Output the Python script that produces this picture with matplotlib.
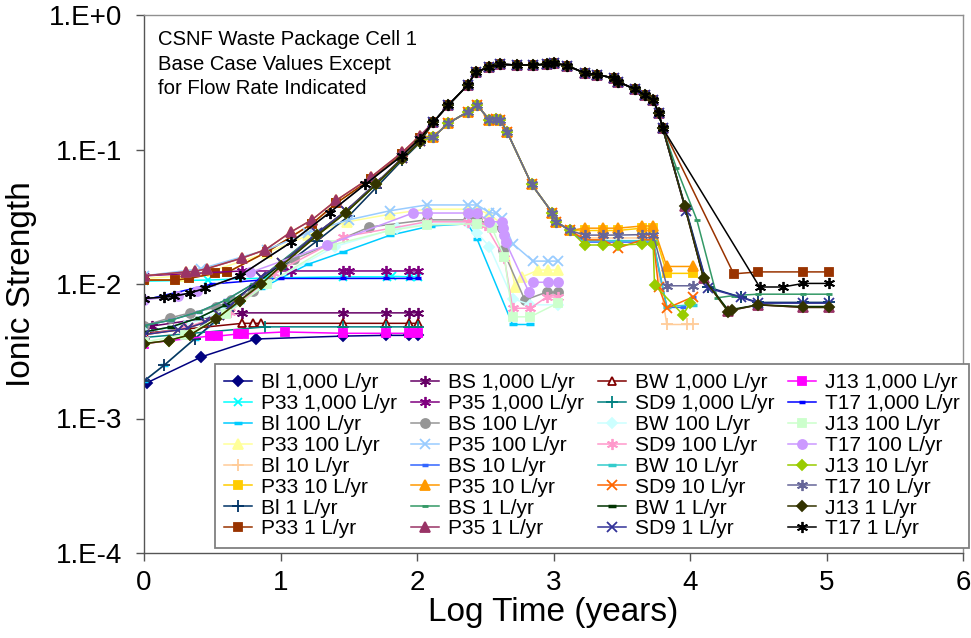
import matplotlib
matplotlib.use('Agg')
import matplotlib.pyplot as plt
from matplotlib.ticker import FixedLocator, FuncFormatter, NullLocator
import numpy as np

plt.rcParams['font.family'] = ['Liberation Sans', 'DejaVu Sans']

# ---------------- data ----------------
# 1,000 L/yr
x_BI_1000 = [0.02, 0.42, 0.82, 1.46, 1.77, 1.94, 2.01]
y_BI_1000 = [1.84e-3, 2.87e-3, 3.9e-3, 4.1e-3, 4.15e-3, 4.15e-3, 4.15e-3]
x_P33_1000 = [0.0, 0.47, 0.9, 1.46, 1.78, 1.82, 1.95, 2.01]
y_P33_1000 = [1.05e-2, 1.07e-2, 1.11e-2, 1.13e-2, 1.13e-2, 1.14e-2, 1.13e-2, 1.13e-2]
x_BS_1000 = [0.06, 0.72, 1.46, 1.77, 1.94, 2.01]
y_BS_1000 = [4.87e-3, 6.1e-3, 6.1e-3, 6.1e-3, 6.1e-3, 6.1e-3]
x_P35_1000 = [0.0, 0.72, 1.08, 1.46, 1.50, 1.77, 1.94, 2.01]
y_P35_1000 = [1.15e-2, 1.25e-2, 1.25e-2, 1.25e-2, 1.25e-2, 1.25e-2, 1.25e-2, 1.25e-2]
x_BW_1000 = [0.0, 0.72, 0.80, 0.86, 1.46, 1.77, 1.94, 2.01]
y_BW_1000 = [4.3e-3, 5.1e-3, 5.1e-3, 5.1e-3, 5.1e-3, 5.1e-3, 5.1e-3, 5.1e-3]
x_SD9_1000 = [0.0, 0.89, 1.46, 1.77, 1.94, 2.01]
y_SD9_1000 = [4.0e-3, 4.8e-3, 4.8e-3, 4.8e-3, 4.8e-3, 4.8e-3]
x_J13_1000 = [0.0, 0.48, 0.54, 0.69, 0.73, 1.03, 1.46, 1.77, 1.94, 2.01]
y_J13_1000 = [3.6e-3, 4.1e-3, 4.1e-3, 4.25e-3, 4.25e-3, 4.4e-3, 4.3e-3, 4.3e-3, 4.3e-3, 4.3e-3]
x_T17_1000 = [0.0, 0.5, 1.0, 1.46, 1.77, 1.94, 2.01]
y_T17_1000 = [7.6e-3, 1.0e-2, 1.1e-2, 1.1e-2, 1.1e-2, 1.1e-2, 1.1e-2]

# 100 L/yr
x_BI_100 = [0.0, 0.15, 0.37, 0.70, 0.86, 1.20, 1.46, 1.80, 2.10, 2.37, 2.44, 2.70, 2.83]
y_BI_100 = [1.9e-3, 2.5e-3, 3.9e-3, 7.3e-3, 9.3e-3, 1.4e-2, 1.73e-2, 2.3e-2, 2.7e-2, 2.8e-2, 2.16e-2, 5.0e-3, 5.0e-3]
x_P33_100 = [0.0, 0.3, 0.5, 0.9, 1.2, 1.49, 1.8, 2.07, 2.37, 2.44, 2.53, 2.62, 2.72, 2.77, 2.89, 2.96, 3.03]
y_P33_100 = [1.1e-2, 1.15e-2, 1.25e-2, 1.7e-2, 2.3e-2, 2.9e-2, 3.3e-2, 3.6e-2, 3.6e-2, 3.6e-2, 3.3e-2, 2.8e-2,
             9.5e-3, 1.13e-2, 1.27e-2, 1.27e-2, 1.27e-2]
x_BS_100 = [0.0, 0.19, 0.34, 0.53, 0.64, 0.80, 1.10, 1.65, 2.07, 2.37, 2.44, 2.53, 2.62, 2.63, 2.79, 2.95, 3.03]
y_BS_100 = [4.9e-3, 5.6e-3, 6.1e-3, 6.7e-3, 7.6e-3, 8.9e-3, 1.53e-2, 2.65e-2, 3.0e-2, 3.0e-2, 3.0e-2, 2.8e-2,
            2.6e-2, 1.79e-2, 7.6e-3, 8.7e-3, 8.7e-3]
x_P35_100 = [0.0, 0.42, 0.9, 1.2, 1.5, 1.8, 2.07, 2.37, 2.44, 2.53, 2.58, 2.62, 2.70, 2.85, 2.96, 3.03]
y_P35_100 = [1.15e-2, 1.3e-2, 1.8e-2, 2.4e-2, 3.0e-2, 3.5e-2, 3.87e-2, 3.87e-2, 3.87e-2, 3.4e-2, 3.35e-2, 3.1e-2,
             2.0e-2, 1.48e-2, 1.48e-2, 1.48e-2]
x_BW_100 = [0.0, 0.3, 0.6, 0.9, 1.4, 1.85, 2.07, 2.37, 2.44, 2.53, 2.70, 2.83, 3.03]
y_BW_100 = [4.4e-3, 4.9e-3, 6.5e-3, 1.0e-2, 1.9e-2, 2.6e-2, 2.8e-2, 2.85e-2, 2.4e-2, 1.9e-2, 7.8e-3, 7.0e-3, 7.0e-3]
x_SD9_100 = [0.0, 0.3, 0.63, 0.95, 1.46, 2.07, 2.37, 2.44, 2.50, 2.64, 2.70, 2.83, 2.95, 3.03]
y_SD9_100 = [4.2e-3, 4.7e-3, 6.2e-3, 1.2e-2, 2.24e-2, 2.9e-2, 2.9e-2, 2.9e-2, 2.75e-2, 1.56e-2, 6.6e-3, 6.6e-3,
             8.0e-3, 8.0e-3]
x_J13_100 = [0.0, 0.3, 0.6, 0.9, 1.38, 1.8, 2.07, 2.44, 2.55, 2.64, 2.70, 2.83, 3.03]
y_J13_100 = [3.7e-3, 4.2e-3, 6.0e-3, 1.0e-2, 1.95e-2, 2.5e-2, 2.75e-2, 2.8e-2, 2.6e-2, 1.6e-2, 5.7e-3, 5.7e-3, 7.2e-3]
x_T17_100 = [0.0, 0.25, 0.39, 0.78, 1.34, 1.97, 2.07, 2.37, 2.44, 2.53, 2.62, 2.63, 2.64, 2.65, 2.82, 2.85, 2.96, 3.03]
y_T17_100 = [7.6e-3, 8.2e-3, 8.8e-3, 1.22e-2, 1.95e-2, 3.37e-2, 3.37e-2, 3.37e-2, 3.37e-2, 2.9e-2, 2.9e-2, 2.6e-2,
             2.3e-2, 2.05e-2, 8.7e-3, 1.03e-2, 1.03e-2, 1.03e-2]

# early rise shared by 10 and 1 L/yr, per water
x_BI_early = [0.0, 0.15, 0.37, 0.55, 0.70, 0.86, 1.00, 1.27, 1.50, 1.70, 1.89, 2.02]
y_BI_early = [1.9e-3, 2.5e-3, 3.9e-3, 5.6e-3, 7.5e-3, 1.0e-2, 1.3e-2, 2.1e-2, 3.2e-2, 5.2e-2, 8.3e-2, 0.112]
x_P33_early = [0.0, 0.23, 0.33, 0.52, 0.61, 0.90, 1.23, 1.41, 1.66, 1.89, 2.02]
y_P33_early = [1.07e-2, 1.07e-2, 1.10e-2, 1.20e-2, 1.22e-2, 1.73e-2, 2.8e-2, 4.0e-2, 6.0e-2, 9.2e-2, 0.122]
x_BS_early = [0.0, 0.20, 0.40, 0.60, 0.80, 1.00, 1.27, 1.48, 1.70, 1.89, 2.02]
y_BS_early = [4.9e-3, 5.4e-3, 6.2e-3, 7.6e-3, 1.0e-2, 1.45e-2, 2.4e-2, 3.5e-2, 5.6e-2, 8.6e-2, 0.115]
x_P35_early = [0.0, 0.31, 0.37, 0.46, 0.72, 0.89, 1.08, 1.23, 1.41, 1.66, 1.89, 2.02]
y_P35_early = [1.15e-2, 1.23e-2, 1.24e-2, 1.30e-2, 1.56e-2, 1.80e-2, 2.45e-2, 3.0e-2, 4.2e-2, 6.2e-2, 9.5e-2, 0.126]
x_BW_early = [0.0, 0.20, 0.40, 0.60, 0.80, 1.00, 1.27, 1.48, 1.70, 1.89, 2.02]
y_BW_early = [4.4e-3, 4.8e-3, 5.6e-3, 7.0e-3, 9.6e-3, 1.4e-2, 2.35e-2, 3.4e-2, 5.5e-2, 8.5e-2, 0.114]
x_SD9_early = [0.0, 0.25, 0.32, 0.45, 0.55, 0.62, 0.86, 1.01, 1.27, 1.48, 1.70, 1.89, 2.02]
y_SD9_early = [4.2e-3, 4.55e-3, 4.7e-3, 5.2e-3, 5.9e-3, 6.7e-3, 1.13e-2, 1.43e-2, 2.4e-2, 3.5e-2, 5.6e-2, 8.6e-2, 0.115]
x_J13_early = [0.0, 0.18, 0.34, 0.53, 0.70, 0.86, 1.00, 1.27, 1.48, 1.70, 1.89, 2.02]
y_J13_early = [3.6e-3, 3.8e-3, 4.2e-3, 5.5e-3, 7.5e-3, 1.0e-2, 1.35e-2, 2.3e-2, 3.4e-2, 5.5e-2, 8.5e-2, 0.114]
x_T17_early = [0.0, 0.15, 0.22, 0.34, 0.45, 0.70, 1.08, 1.36, 1.62, 1.89, 2.02]
y_T17_early = [7.8e-3, 8.0e-3, 8.1e-3, 8.6e-3, 9.3e-3, 1.15e-2, 2.05e-2, 3.4e-2, 5.5e-2, 9.0e-2, 0.12]

# 10 L/yr peak and plateau
x_main10 = [2.12, 2.23, 2.37, 2.44, 2.53, 2.58, 2.61, 2.66, 2.84, 2.99, 3.02, 3.12]
y_main10 = [0.124, 0.157, 0.19, 0.214, 0.166, 0.17, 0.166, 0.135, 0.055, 0.034, 0.029, 0.025]
x_plat10 = [3.23, 3.36, 3.47, 3.65, 3.73]
y_BI_plat10 = [0.022, 0.022, 0.022, 0.022, 0.022]
y_P33_plat10 = [0.025, 0.025, 0.025, 0.026, 0.026]
y_BS_plat10 = [0.0205, 0.0205, 0.0205, 0.0205, 0.0205]
y_P35_plat10 = [0.026, 0.026, 0.026, 0.027, 0.027]
y_BW_plat10 = [0.021, 0.021, 0.021, 0.021, 0.021]
y_SD9_plat10 = [0.0213, 0.0213, 0.0185, 0.0213, 0.0213]
y_J13_plat10 = [0.0195, 0.0195, 0.0195, 0.0198, 0.0198]
y_T17_plat10 = [0.0231, 0.0231, 0.0231, 0.0233, 0.0233]
x_BI_tail10 = [3.83, 3.98, 4.02]
y_BI_tail10 = [5.0e-3, 5.0e-3, 5.0e-3]
x_P33_tail10 = [3.83, 4.02]
y_P33_tail10 = [1.2e-2, 1.2e-2]
x_BS_tail10 = [3.83, 3.95, 4.02]
y_BS_tail10 = [6.7e-3, 6.7e-3, 8.0e-3]
x_P35_tail10 = [3.83, 4.02]
y_P35_tail10 = [1.35e-2, 1.35e-2]
x_BW_tail10 = [3.83, 4.02]
y_BW_tail10 = [6.8e-3, 7.0e-3]
x_SD9_tail10 = [3.77, 3.83, 4.02]
y_SD9_tail10 = [9.5e-3, 6.6e-3, 8.0e-3]
x_J13_tail10 = [3.74, 3.95, 4.00]
y_J13_tail10 = [9.8e-3, 5.9e-3, 7.2e-3]
x_T17_tail10 = [3.83, 4.02]
y_T17_tail10 = [9.7e-3, 9.7e-3]

# 1 L/yr peak and decline
x_main1 = [2.12, 2.23, 2.37, 2.43, 2.53, 2.61, 2.73, 2.85, 2.95, 3.00, 3.10, 3.23, 3.32, 3.44, 3.47, 3.60, 3.67,
           3.73, 3.77, 3.80]
y_main1 = [0.16, 0.214, 0.30, 0.377, 0.41, 0.43, 0.425, 0.425, 0.43, 0.44, 0.42, 0.37, 0.36, 0.34, 0.32, 0.28,
           0.254, 0.233, 0.187, 0.144]
x_BI_tail1 = [3.97, 4.13, 4.37, 4.50, 4.83, 5.02]
y_BI_tail1 = [3.6e-2, 9.5e-3, 8.0e-3, 7.3e-3, 7.3e-3, 7.3e-3]
x_P33_tail1 = [4.32, 4.50, 4.83, 5.02]
y_P33_tail1 = [1.19e-2, 1.23e-2, 1.23e-2, 1.23e-2]
x_BS_tail1 = [3.90, 4.05, 4.20, 4.32, 4.50, 4.83, 5.02]
y_BS_tail1 = [7.3e-2, 3.0e-2, 7.9e-3, 8.2e-3, 8.4e-3, 8.4e-3, 8.4e-3]
x_P35_tail1 = [3.96, 4.10, 4.28, 4.50, 4.83, 5.02]
y_P35_tail1 = [3.8e-2, 1.1e-2, 6.3e-3, 7.0e-3, 6.7e-3, 6.7e-3]
x_BW_tail1 = [3.96, 4.10, 4.28, 4.50, 4.83, 5.02]
y_BW_tail1 = [3.9e-2, 1.1e-2, 6.4e-3, 7.0e-3, 6.8e-3, 6.8e-3]
x_SD9_tail1 = [3.97, 4.13, 4.37, 4.50, 4.83, 5.02]
y_SD9_tail1 = [3.5e-2, 9.3e-3, 8.0e-3, 7.2e-3, 7.2e-3, 7.2e-3]
x_J13_tail1 = [3.96, 4.10, 4.28, 4.31, 4.50, 4.83, 5.02]
y_J13_tail1 = [3.8e-2, 1.1e-2, 6.2e-3, 6.4e-3, 7.0e-3, 6.7e-3, 6.7e-3]
x_T17_tail1 = [4.51, 4.68, 4.83, 5.02]
y_T17_tail1 = [9.5e-3, 9.5e-3, 1.01e-2, 1.01e-2]

labels = ["Bl 1,000 L/yr", "P33 1,000 L/yr", "Bl 100 L/yr", "P33 100 L/yr", "Bl 10 L/yr", "P33 10 L/yr",
          "Bl 1 L/yr", "P33 1 L/yr",
          "BS 1,000 L/yr", "P35 1,000 L/yr", "BS 100 L/yr", "P35 100 L/yr", "BS 10 L/yr", "P35 10 L/yr",
          "BS 1 L/yr", "P35 1 L/yr",
          "BW 1,000 L/yr", "SD9 1,000 L/yr", "BW 100 L/yr", "SD9 100 L/yr", "BW 10 L/yr", "SD9 10 L/yr",
          "BW 1 L/yr", "SD9 1 L/yr",
          "J13 1,000 L/yr", "T17 1,000 L/yr", "J13 100 L/yr", "T17 100 L/yr", "J13 10 L/yr", "T17 10 L/yr",
          "J13 1 L/yr", "T17 1 L/yr"]

# ---------------- assemble series ----------------
def s10(xe, ye, yp, xt, yt):
    return xe + x_main10 + x_plat10 + xt, ye + y_main10 + yp + yt

def s1(xe, ye, xt, yt):
    return xe + x_main1 + xt, ye + y_main1 + yt

xy = [
    (x_BI_1000, y_BI_1000), (x_P33_1000, y_P33_1000), (x_BI_100, y_BI_100), (x_P33_100, y_P33_100),
    s10(x_BI_early, y_BI_early, y_BI_plat10, x_BI_tail10, y_BI_tail10),
    s10(x_P33_early, y_P33_early, y_P33_plat10, x_P33_tail10, y_P33_tail10),
    s1(x_BI_early, y_BI_early, x_BI_tail1, y_BI_tail1),
    s1(x_P33_early, y_P33_early, x_P33_tail1, y_P33_tail1),
    (x_BS_1000, y_BS_1000), (x_P35_1000, y_P35_1000), (x_BS_100, y_BS_100), (x_P35_100, y_P35_100),
    s10(x_BS_early, y_BS_early, y_BS_plat10, x_BS_tail10, y_BS_tail10),
    s10(x_P35_early, y_P35_early, y_P35_plat10, x_P35_tail10, y_P35_tail10),
    s1(x_BS_early, y_BS_early, x_BS_tail1, y_BS_tail1),
    s1(x_P35_early, y_P35_early, x_P35_tail1, y_P35_tail1),
    (x_BW_1000, y_BW_1000), (x_SD9_1000, y_SD9_1000), (x_BW_100, y_BW_100), (x_SD9_100, y_SD9_100),
    s10(x_BW_early, y_BW_early, y_BW_plat10, x_BW_tail10, y_BW_tail10),
    s10(x_SD9_early, y_SD9_early, y_SD9_plat10, x_SD9_tail10, y_SD9_tail10),
    s1(x_BW_early, y_BW_early, x_BW_tail1, y_BW_tail1),
    s1(x_SD9_early, y_SD9_early, x_SD9_tail1, y_SD9_tail1),
    (x_J13_1000, y_J13_1000), (x_T17_1000, y_T17_1000), (x_J13_100, y_J13_100), (x_T17_100, y_T17_100),
    s10(x_J13_early, y_J13_early, y_J13_plat10, x_J13_tail10, y_J13_tail10),
    s10(x_T17_early, y_T17_early, y_T17_plat10, x_T17_tail10, y_T17_tail10),
    s1(x_J13_early, y_J13_early, x_J13_tail1, y_J13_tail1),
    s1(x_T17_early, y_T17_early, x_T17_tail1, y_T17_tail1),
]

AST = (6, 2, 0)
DASH = '_'
styles = [
    ('#000080', 'D', 5, {}), ('#00FFFF', 'x', 6, {}), ('#00CCFF', DASH, 6, {'mew': 2.5}), ('#FFFF99', '^', 6.5, {}),
    ('#FFCC99', '+', 8, {}), ('#FFCC00', 's', 6, {}), ('#003366', '+', 8, {}), ('#993300', 's', 6, {}),
    ('#660066', AST, 8, {}), ('#800080', AST, 8, {}), ('#969696', 'o', 6.5, {}), ('#99CCFF', 'x', 7, {}),
    ('#3366FF', DASH, 4, {'mew': 2.5}), ('#FF9900', '^', 6.5, {}), ('#339966', DASH, 4, {'mew': 2}), ('#993366', '^', 6.5, {}),
    ('#800000', '^', 6, {'mfc': 'white'}), ('#008080', '+', 8, {}), ('#CCFFFF', 'D', 5, {}), ('#FF99CC', AST, 8, {}),
    ('#33CCCC', DASH, 6, {'mew': 2.5}), ('#FF6600', 'x', 7, {}), ('#003300', DASH, 6, {'mew': 2.5}), ('#333399', 'x', 7, {}),
    ('#FF00FF', 's', 6, {}), ('#0000FF', DASH, 4, {'mew': 2.5}), ('#CCFFCC', 's', 6, {}), ('#CC99FF', 'o', 6.5, {}),
    ('#99CC00', 'D', 5, {}), ('#666699', AST, 8, {}), ('#333300', 'D', 5, {}), ('#000000', AST, 8, {}),
]

# ---------------- figure ----------------
W, H = 971, 638
fig = plt.figure(figsize=(W / 100, H / 100), dpi=100)
L, R, T, B = 144, 963, 15, 553
ax = fig.add_axes([L / W, 1 - B / H, (R - L) / W, (B - T) / H])

handles = []
for (xs, ys), (c, m, ms, kw), lab in zip(xy, styles, labels):
    mew = kw.get('mew', 1.3)
    mfc = kw.get('mfc', c)
    h, = ax.plot(xs, ys, color=c, lw=1.1, marker=m, ms=ms, mec=c, mfc=mfc, mew=mew, label=lab)
    handles.append(h)

ax.set_yscale('log')
ax.set_xlim(0, 6)
ax.set_ylim(1e-4, 1.0)
ax.xaxis.set_major_locator(FixedLocator([0, 1, 2, 3, 4, 5, 6]))
ax.yaxis.set_major_locator(FixedLocator([1e-4, 1e-3, 1e-2, 1e-1, 1e0]))
ax.yaxis.set_minor_locator(NullLocator())
ax.yaxis.set_major_formatter(FuncFormatter(lambda v, p: "1.E%+d" % int(round(np.log10(v)))))
ax.tick_params(axis='both', which='major', direction='out', length=6, width=1,
               labelsize=20, colors='#555555', labelcolor='black')
ax.tick_params(axis='y', pad=10)
ax.tick_params(axis='x', pad=6)

for side in ['left', 'bottom']:
    ax.spines[side].set_color('#555555')
    ax.spines[side].set_linewidth(1.0)
for side in ['top', 'right']:
    ax.spines[side].set_color('#909090')
    ax.spines[side].set_linewidth(1.0)

ax.set_xlabel('Log Time (years)', fontsize=24, labelpad=1)
ax.set_ylabel('Ionic Strength', fontsize=24, labelpad=8)

fig.text(158 / W, 1 - 30 / H, "CSNF Waste Package Cell 1\nBase Case Values Except\nfor Flow Rate Indicated",
         fontsize=14.6, va='top', ha='left', linespacing=1.38)

leg = ax.legend(handles=handles, ncol=4, loc='upper left', bbox_to_anchor=(215 / W, 1 - 364 / H),
                bbox_transform=fig.transFigure, fontsize=15, frameon=True, fancybox=False,
                edgecolor='#808080', framealpha=1, borderpad=0.45, labelspacing=0.09, handlelength=1.33,
                handletextpad=0.44, columnspacing=0.67, borderaxespad=0)
leg.get_frame().set_linewidth(1.3)

fig.savefig('out.png', dpi=100)
